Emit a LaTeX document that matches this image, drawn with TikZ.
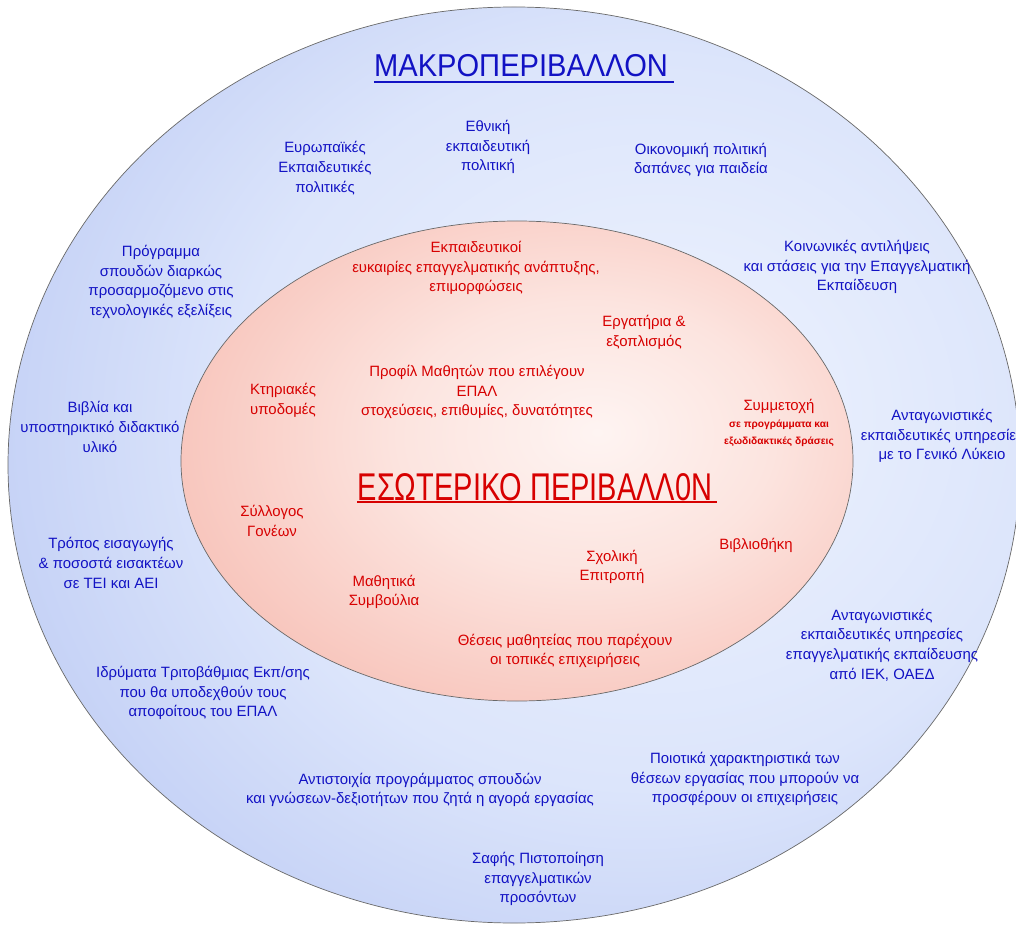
\documentclass[tikz,border=0pt]{standalone}
\usepackage{fontspec}
\setmainfont{Liberation Sans}
\definecolor{blutesto}{RGB}{18,18,196}
\definecolor{rossotesto}{RGB}{215,0,0}
\definecolor{bordo}{RGB}{105,105,105}
\pgfdeclareradialshading{macroombra}{\pgfpoint{8bp}{3bp}}{%
    color(0bp)=(rgb,255:red,238;green,243;blue,254);
    color(20bp)=(rgb,255:red,220;green,229;blue,251);
    color(36bp)=(rgb,255:red,188;green,202;blue,244);
    color(50bp)=(rgb,255:red,155;green,174;blue,235);
    color(60bp)=(rgb,255:red,145;green,166;blue,232);
    color(100bp)=(rgb,255:red,145;green,166;blue,232)}
\pgfdeclareradialshading{internoombra}{\pgfpoint{6bp}{3bp}}{%
    color(0bp)=(rgb,255:red,254;green,244;blue,242);
    color(14bp)=(rgb,255:red,252;green,228;blue,223);
    color(34bp)=(rgb,255:red,247;green,190;blue,180);
    color(50bp)=(rgb,255:red,242;green,160;blue,146);
    color(60bp)=(rgb,255:red,240;green,150;blue,136);
    color(100bp)=(rgb,255:red,240;green,150;blue,136)}

\begin{document}
\begin{tikzpicture}[x=0.02cm, y=-0.02cm,
    testoblu/.style = {text=blutesto, align=center, inner sep=0pt,
        font=\fontsize{8.5}{11.2}\selectfont},
    testorosso/.style = {text=rossotesto, align=center, inner sep=0pt,
        font=\fontsize{8.5}{11.2}\selectfont}]
    % Parametri
    \pgfmathsetmacro{\cx}{514}
    \pgfmathsetmacro{\cy}{465}
    \pgfmathsetmacro{\ra}{506}
    \pgfmathsetmacro{\rb}{458}
    \pgfmathsetmacro{\ix}{517}
    \pgfmathsetmacro{\iy}{461}
    \pgfmathsetmacro{\ia}{336}
    \pgfmathsetmacro{\ib}{240}
    \clip (0,0) rectangle (1016,925);
    \fill[white] (0,0) rectangle (1016,925);

    % Macroambiente
    \shadedraw[shading=macroombra, draw=bordo, thin]
        (\cx,\cy) ellipse ({\ra} and {\rb});
    % Ambiente interno
    \shadedraw[shading=internoombra, draw=bordo, thin]
        (\ix,\iy) ellipse ({\ia} and {\ib});

    % Titoli
    \node[text=blutesto, inner sep=0pt, font=\fontsize{18}{18}\selectfont] (macro) at (521,66)
        {\scalebox{0.92}[1]{ΜΑΚΡΟΠΕΡΙΒΑΛΛΟΝ}};
    \draw[blutesto, line width=1.1pt] (macro.south west) ++(0,4) -- ++(300,0);
    \node[text=rossotesto, inner sep=0pt, font=\fontsize{22}{22}\selectfont] (esoterico) at (535,487)
        {\scalebox{0.75}[1]{ΕΣΩΤΕΡΙΚΟ ΠΕΡΙΒΑΛΛ0Ν}};
    \draw[rossotesto, line width=1.1pt] (esoterico.south west) ++(0,1) -- ++(360,0);

    % Macroambiente: testi
    \node[testoblu] (europa) at (325,168) {Ευρωπαϊκές\\Εκπαιδευτικές\\πολιτικές};
    \node[testoblu] (ethniki) at (488,147) {Εθνική\\εκπαιδευτική\\πολιτική};
    \node[testoblu] (oikonomia) at (701,160) {Οικονομική πολιτική\\δαπάνες για παιδεία};
    \node[testoblu] (koinonia) at (857,267) {Κοινωνικές αντιλήψεις\\και στάσεις για την Επαγγελματική\\Εκπαίδευση};
    \node[testoblu] (programma) at (161,282) {Πρόγραμμα\\σπουδών διαρκώς\\προσαρμοζόμενο στις\\τεχνολογικές εξελίξεις};
    \node[testoblu] (vivlia) at (100,427) {Βιβλία και\\υποστηρικτικό διδακτικό\\υλικό};
    \node[testoblu] (eisagogi) at (111,563) {Τρόπος εισαγωγής\\\& ποσοστά εισακτέων\\σε ΤΕΙ και ΑΕΙ};
    \node[testoblu] (idrymata) at (203,693) {Ιδρύματα Τριτοβάθμιας Εκπ/σης\\που θα υποδεχθούν τους\\αποφοίτους του ΕΠΑΛ};
    \node[testoblu] (lykeio) at (942,436) {Ανταγωνιστικές\\εκπαιδευτικές υπηρεσίες\\με το Γενικό Λύκειο};
    \node[testoblu] (iek) at (882,645) {Ανταγωνιστικές\\εκπαιδευτικές υπηρεσίες\\επαγγελματικής εκπαίδευσης\\από ΙΕΚ, ΟΑΕΔ};
    \node[testoblu] (theseis) at (745,779) {Ποιοτικά χαρακτηριστικά των\\θέσεων εργασίας που μπορούν να\\προσφέρουν οι επιχειρήσεις};
    \node[testoblu] (agora) at (420,790) {Αντιστοιχία προγράμματος σπουδών\\και γνώσεων-δεξιοτήτων που ζητά η αγορά εργασίας};
    \node[testoblu] (pistopoiisi) at (538,879) {Σαφής Πιστοποίηση\\επαγγελματικών\\προσόντων};

    % Ambiente interno: testi
    \node[testorosso] (ekpaideftikoi) at (476,268) {Εκπαιδευτικοί\\ευκαιρίες επαγγελματικής ανάπτυξης,\\επιμορφώσεις};
    \node[testorosso] (ergastiria) at (644,332) {Εργατήρια \&\\εξοπλισμός};
    \node[testorosso] (profil) at (477,392) {Προφίλ Μαθητών που επιλέγουν\\ΕΠΑΛ\\στοχεύσεις, επιθυμίες, δυνατότητες};
    \node[testorosso] (ktiria) at (283,400) {Κτηριακές\\υποδομές};
    \node[testorosso, font=\fontsize{8.5}{9.5}\selectfont] (symmetochi) at (779,423)
        {Συμμετοχή\\{\fontsize{5.8}{8}\selectfont\bfseries σε προγράμματα και}\\{\fontsize{5.8}{8}\selectfont\bfseries εξωδιδακτικές δράσεις}};
    \node[testorosso] (syllogos) at (272,521) {Σύλλογος\\Γονέων};
    \node[testorosso] (vivliothiki) at (756,545) {Βιβλιοθήκη};
    \node[testorosso] (epitropi) at (612,567) {Σχολική\\Επιτροπή};
    \node[testorosso] (symvoulia) at (384,592) {Μαθητικά\\Συμβούλια};
    \node[testorosso] (mathiteia) at (565,651) {Θέσεις μαθητείας που παρέχουν\\οι τοπικές επιχειρήσεις};
\end{tikzpicture}
\end{document}
